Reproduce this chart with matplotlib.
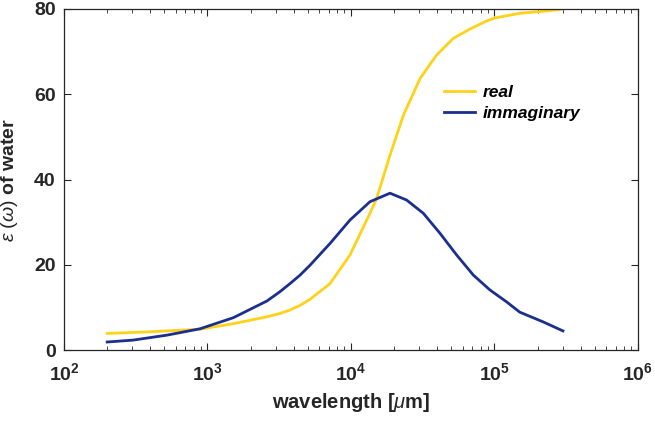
import math
import matplotlib
matplotlib.use("Agg")
import matplotlib.pyplot as plt
from matplotlib.ticker import FixedLocator, LogLocator, NullFormatter, FuncFormatter

# Valeurs (longueur d'onde en µm)
wl_real = [200, 397, 678, 887, 1514, 2590, 3200, 3760, 4420, 5180, 7140,
           9840, 13560, 15100, 18700, 23200, 30300, 39500, 51600, 67500,
           88300, 100700, 150700, 225000, 300000]
eps_real = [3.9, 4.3, 4.7, 4.9, 6.2, 7.8, 8.6, 9.4, 10.5, 11.9, 15.6,
            22.3, 32.1, 35.6, 45.7, 55.1, 63.7, 69.2, 73.1, 75.3,
            77.2, 77.9, 79.0, 79.5, 80.0]

wl_imag = [200, 304, 520, 887, 1514, 2590, 3200, 3760, 4420, 5180, 7140,
           9840, 13560, 18700, 24400, 31900, 41700, 54500, 71200, 93000,
           121600, 150000, 219000, 300000]
eps_imag = [1.9, 2.35, 3.5, 5.0, 7.6, 11.5, 13.7, 15.6, 17.6, 19.9, 25.0,
            30.5, 34.8, 36.8, 35.2, 32.1, 27.4, 22.3, 17.6, 14.1,
            11.3, 8.9, 6.6, 4.5]

plt.rcParams['font.family'] = ['Liberation Sans', 'DejaVu Sans']
plt.rcParams['mathtext.fontset'] = 'custom'
plt.rcParams['mathtext.rm'] = 'Liberation Sans'
plt.rcParams['mathtext.it'] = 'Liberation Sans:italic'
plt.rcParams['mathtext.bf'] = 'Liberation Sans:bold'

fig = plt.figure(figsize=(6.55, 4.28), dpi=100)
ax = fig.add_axes([0.0977, 0.182, 0.8763, 0.797])

ax.plot(wl_real, eps_real, color="#FFD21A", lw=2, solid_joinstyle="round", label="real")
ax.plot(wl_imag, eps_imag, color="#1B2F8E", lw=2, solid_joinstyle="round", label="immaginary")

ax.set_xscale("log")
ax.set_xlim(1e2, 1e6)
ax.set_ylim(0, 80)
ax.set_yticks([0, 20, 40, 60, 80])
ax.xaxis.set_major_locator(FixedLocator([1e2, 1e3, 1e4, 1e5, 1e6]))
ax.xaxis.set_minor_locator(LogLocator(base=10, subs=range(2, 10)))
ax.xaxis.set_minor_formatter(NullFormatter())
ax.xaxis.set_major_formatter(FuncFormatter(lambda v, p: r'$\mathbf{10^{%d}}$' % round(math.log10(v))))

for s in ax.spines.values():
    s.set_color("#262626")
    s.set_linewidth(0.9)
ax.tick_params(which="both", direction="in", top=True, right=True, colors="#262626")
ax.tick_params(which="major", length=5, labelsize=14)
ax.tick_params(which="minor", length=3)
ax.tick_params(axis="x", which="major", pad=9)
ax.tick_params(axis="y", which="major", pad=6)
for lab in ax.get_yticklabels():
    lab.set_fontweight("bold")

ax.set_xlabel(r'wavelength [$\mu$m]', fontsize=14.5, fontweight="bold", color="#262626", labelpad=5)
ax.set_ylabel(r'$\epsilon\ (\omega)$ of water', fontsize=14, fontweight="bold", color="#262626", labelpad=10)

ax.legend(loc="upper left", bbox_to_anchor=(0.635, 0.822), frameon=False,
          prop={"style": "italic", "weight": "bold", "size": 12.5},
          handlelength=1.8, handletextpad=0.4, labelspacing=0.3)

fig.savefig("out.png", dpi=100)
